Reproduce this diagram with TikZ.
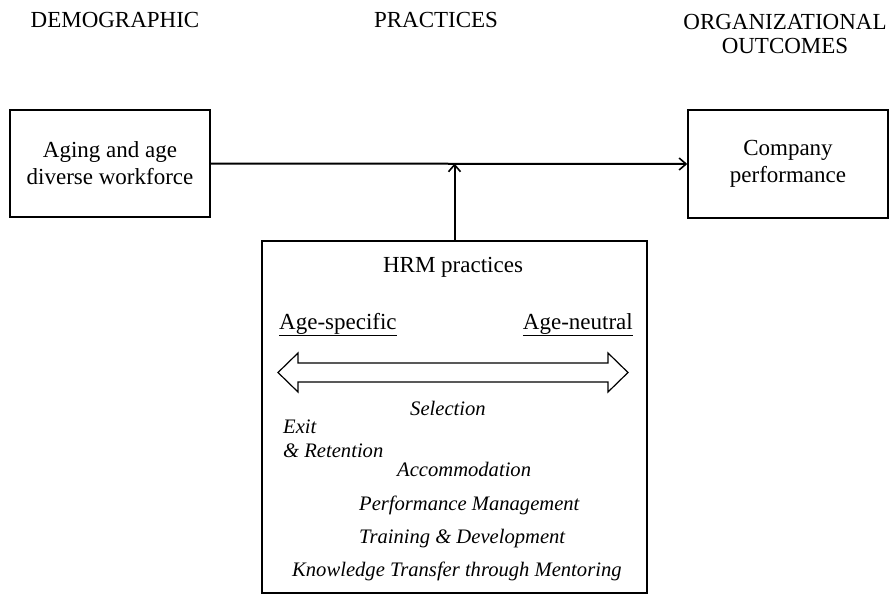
\documentclass[tikz,border=0pt]{standalone}
\usepackage{fontspec}
\setmainfont{Liberation Serif}
\usetikzlibrary{arrows.meta}
\begin{document}
\begin{tikzpicture}[x=1pt,y=-1pt,
  rm/.style={font=\fontsize{23}{27}\selectfont},
  it/.style={font=\fontsize{20.6}{24}\selectfont\itshape, anchor=base west, inner sep=0},
  hdr/.style={font=\fontsize{23}{25}\selectfont, anchor=base, inner sep=0},
  boxnode/.style={draw, line width=1.4pt, inner sep=0, align=center, rm},
  link/.style={line width=2pt, -{Straight Barb[length=7pt,width=12pt,line width=1.6pt]}}]
\useasboundingbox (0,0) rectangle (889,594);

% column headings
\node[hdr] (hdemo) at (115,28) {DEMOGRAPHIC};
\node[hdr] (hprac) at (436,28) {PRACTICES};
\node[hdr] (horg1) at (785,30) {ORGANIZATIONAL};
\node[hdr] (horg2) at (785,54) {OUTCOMES};

% main boxes
\node[boxnode, minimum width=200pt, minimum height=107pt] (aging) at (110,163.5)
  {Aging and age\\diverse workforce};
\node[boxnode, minimum width=200pt, minimum height=108pt] (perf) at (788,164)
  {Company\\performance};
\node[draw, line width=1.4pt, inner sep=0, minimum width=385pt, minimum height=352pt] (hrm) at (454.5,417) {};

% connectors
\draw[link] (aging.east) -- (perf.west);
\coordinate (join) at (hrm.north |- aging.east);
\draw[link] (hrm.north) -- (join);

% contents of the HRM box
\node[rm, anchor=base, inner sep=0] (title) at (453,272) {HRM practices};
\node[rm, anchor=base west, inner sep=0] (spec) at (279,329) {\underline{Age-specific}};
\node[rm, anchor=base east, inner sep=0] (neut) at (633,329) {\underline{Age-neutral}};

% two-headed scale arrow
\draw[line width=1.2pt, line join=miter]
  (278,372.5) -- (298,353) -- (298,363) -- (608,363) -- (608,353) -- (628,372.5)
  -- (608,392) -- (608,382) -- (298,382) -- (298,392) -- cycle;

\node[it] (sel)  at (410,415) {Selection};
\node[it] (exit) at (283,433) {Exit};
\node[it] (ret)  at (283,457) {\& Retention};
\node[it] (acc)  at (397,476) {Accommodation};
\node[it] (pm)   at (359,510) {Performance Management};
\node[it] (td)   at (359,543) {Training \& Development};
\node[it] (ktm)  at (292,576) {Knowledge Transfer through Mentoring};
\end{tikzpicture}
\end{document}
